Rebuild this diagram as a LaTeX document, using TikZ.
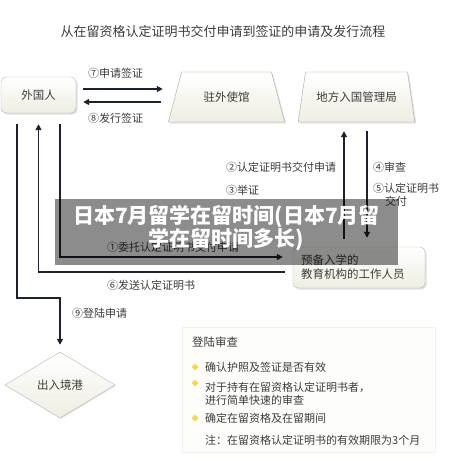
\documentclass[tikz,border=0pt]{standalone}
\usepackage{fontspec}
\setmainfont{Noto Sans CJK SC}
\usetikzlibrary{shapes.geometric, arrows.meta, positioning, shadows}
\usepackage{xcolor}
\definecolor{ink}{RGB}{30,34,45}
\definecolor{cream}{RGB}{238,238,226}
\definecolor{softgray}{RGB}{60,60,60}
\definecolor{dotyellow}{RGB}{244,214,80}

\begin{document}
\begin{tikzpicture}[x=1pt, y=-1pt,
    party/.style={rectangle, draw=gray!55, rounded corners=5pt, top color=white, bottom color=cream, drop shadow={shadow xshift=1.5pt, shadow yshift=-1.5pt, opacity=0.25}, font=\fontsize{11.5}{14}\selectfont, text=softgray},
    office/.style={trapezium, trapezium stretches=true, draw=gray!70, top color=white, bottom color=cream, drop shadow={shadow xshift=1.5pt, shadow yshift=-1.5pt, opacity=0.2}, minimum width=117pt, minimum height=50pt, font=\fontsize{11.5}{14}\selectfont, text=softgray},
    lbl/.style={anchor=west, inner sep=0pt, font=\fontsize{11}{13}\selectfont, text=softgray},
    item/.style={anchor=west, inner sep=0pt, align=left, font=\fontsize{11}{12.5}\selectfont, text=softgray},
    dot/.style={diamond, fill=dotyellow, inner sep=0pt, minimum size=7pt},
    arrow/.style={-{Triangle[length=6pt, width=6pt]}, line width=1.6pt, draw=ink},
    wire/.style={line width=1.6pt, draw=ink}
]
\useasboundingbox (0,0) rectangle (456,466);
\fill[white] (0,0) rectangle (456,466);

% title
\node[font=\fontsize{13}{15}\selectfont, text=softgray] (title) at (223,32) {从在留资格认定证明书交付申请到签证的申请及发行流程};

% parties
\node[party, minimum width=75pt, minimum height=36pt] (foreigner) at (38.5,95) {外国人};
\node[office, trapezium left angle=66, trapezium right angle=66] (embassy) at (226.5,97) {驻外使馆};
\node[office, trapezium left angle=70, trapezium right angle=70] (bureau) at (356.5,97) {地方入国管理局};
\node[party, minimum width=132pt, minimum height=41pt, align=left, text width=116pt] (staff) at (359,267.5) {预备入学的\\教育机构的工作人员};
\node[diamond, aspect=1.67, minimum width=110pt, minimum height=66pt, inner sep=0pt, draw=gray!55, top color=white, bottom color=cream, drop shadow={shadow xshift=1pt, shadow yshift=-1pt, opacity=0.2}, font=\fontsize{11.5}{14}\selectfont, text=softgray] (port) at (60,385) {出入境港};

% visa
\draw[arrow] ([xshift=7pt, yshift=6pt]foreigner.east) -- ([xshift=-12pt, yshift=8pt]embassy.west);
\draw[arrow] ([xshift=-14pt, yshift=-5pt]embassy.west) -- ([xshift=7pt, yshift=-7pt]foreigner.east);
\node[lbl] (l7) at (88,73) {⑦申请签证};
\node[lbl] (l8) at (88,118) {⑧发行签证};

% certificate
\draw[arrow, shorten <=11pt] ([xshift=21.5pt]foreigner.south) |- ([xshift=-10pt, yshift=10.5pt]staff.west);
\draw[arrow, shorten >=11pt] ([xshift=-8pt, yshift=-4.5pt]staff.west) -| (foreigner.south);
\draw[arrow, shorten <=8pt, shorten >=9pt] ([xshift=-15pt]staff.north) -- ([xshift=-15pt]staff.north |- bureau.south);
\draw[arrow, shorten <=9pt, shorten >=9pt] ([xshift=8pt]staff.north |- bureau.south) -- ([xshift=8pt]staff.north);
\node[lbl] (l1) at (107,247) {①委托认定证明书交付申请};
\node[lbl] (l2) at (226,167) {②认定证明书交付申请};
\node[lbl] (l3) at (226,190) {③举证};
\node[lbl] (l4) at (373,167) {④审查};
\node[lbl] (l5) at (373,188) {⑤认定证明书};
\node[lbl] (l5b) at (385,201) {交付};
\node[lbl] (l6) at (107,285) {⑥发送认定证明书};

% landing
\draw[arrow, shorten <=11pt, shorten >=7pt] ([xshift=-21.5pt]foreigner.south) -- ++(0,185) -| (port.north);
\node[lbl] (l9) at (72,313) {⑨登陆申请};

% landing check
\node[rectangle, draw=gray!12, fill={rgb,255:red,253;green,253;blue,249}, minimum width=253pt, minimum height=125pt] (check) at (308.5,389.5) {};
\node[item, font=\fontsize{11.5}{14}\selectfont] (checktitle) at (192,342) {登陆审查};
\node[dot] (d1) at (195,367) {};
\node[dot] (d2) at (195,383) {};
\node[dot] (d3) at (195,418) {};
\node[item] (c1) at (205,367) {确认护照及签证是否有效};
\node[item] (c2) at (205,394) {对于持有在留资格认定证明书者，\\进行简单快速的审查};
\node[item] (c3) at (205,418) {确定在留资格及在留期间};
\node[item] (c4) at (205,440) {注：在留资格认定证明书的有效期限为3个月};

% overlay
\node[rectangle, fill=black, fill opacity=0.45, minimum width=343pt, minimum height=66pt, inner sep=0pt] (mark) at (226.5,232) {};
\node[align=center, text=white, font=\fontsize{21}{23}\selectfont\bfseries] (marktext) at ([yshift=3.5pt]mark.center) {日本7月留学在留时间(日本7月留\\学在留时间多长)};
\end{tikzpicture}
\end{document}
